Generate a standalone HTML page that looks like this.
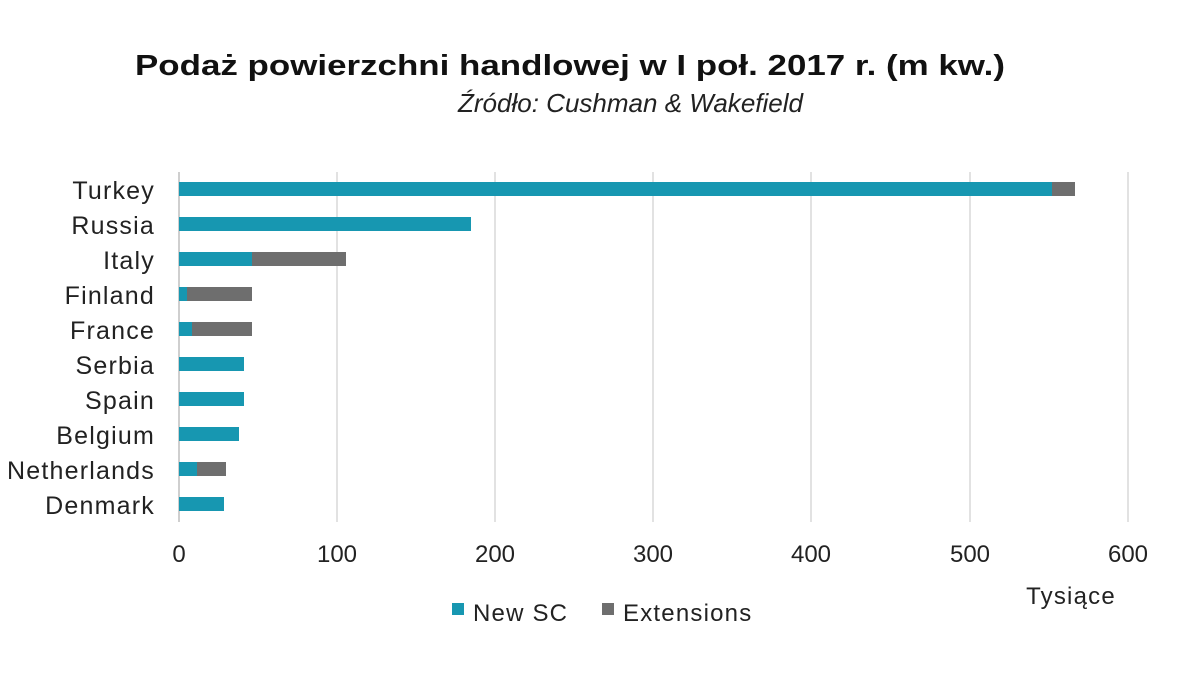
<!DOCTYPE html>
<html><head><meta charset="utf-8"><style>
body{margin:0;background:#fff;}
svg text{font-family:"Liberation Sans",sans-serif;}
</style></head><body>
<svg width="1200" height="675" xmlns="http://www.w3.org/2000/svg">
<rect width="1200" height="675" fill="#fff"/>
<text x="135" y="75" textLength="870" lengthAdjust="spacingAndGlyphs" font-size="29" font-weight="bold" fill="#111">Podaż powierzchni handlowej w I poł. 2017 r. (m kw.)</text>
<text x="458" y="112" textLength="345" lengthAdjust="spacingAndGlyphs" font-size="26" font-style="italic" fill="#222">Źródło: Cushman &amp; Wakefield</text>
<g stroke="#d9d9d9" stroke-width="1.5">
<line x1="337" y1="172" x2="337" y2="522"/><line x1="495" y1="172" x2="495" y2="522"/>
<line x1="653" y1="172" x2="653" y2="522"/><line x1="811" y1="172" x2="811" y2="522"/>
<line x1="970" y1="172" x2="970" y2="522"/><line x1="1128" y1="172" x2="1128" y2="522"/>
</g>
<line x1="179" y1="172" x2="179" y2="522" stroke="#bfbfbf" stroke-width="1.5"/>
<g fill="#1797b1">
<rect x="179" y="182" width="873" height="14"/>
<rect x="179" y="217" width="292" height="14"/>
<rect x="179" y="252" width="73" height="14"/>
<rect x="179" y="287" width="8" height="14"/>
<rect x="179" y="322" width="13" height="14"/>
<rect x="179" y="357" width="65" height="14"/>
<rect x="179" y="392" width="65" height="14"/>
<rect x="179" y="427" width="60" height="14"/>
<rect x="179" y="462" width="18" height="14"/>
<rect x="179" y="497" width="45" height="14"/>
</g>
<g fill="#6e6e6e">
<rect x="1052" y="182" width="23" height="14"/>
<rect x="252" y="252" width="94" height="14"/>
<rect x="187" y="287" width="65" height="14"/>
<rect x="192" y="322" width="60" height="14"/>
<rect x="197" y="462" width="29" height="14"/>
</g>
<g font-size="25" fill="#222" text-anchor="end" letter-spacing="1.2">
<text x="155" y="199">Turkey</text><text x="155" y="234">Russia</text>
<text x="155" y="269">Italy</text><text x="155" y="304">Finland</text>
<text x="155" y="339">France</text><text x="155" y="374">Serbia</text>
<text x="155" y="409">Spain</text><text x="155" y="444">Belgium</text>
<text x="155" y="479">Netherlands</text><text x="155" y="514">Denmark</text>
</g>
<g font-size="24" fill="#222" text-anchor="middle">
<text x="179" y="562">0</text><text x="337" y="562">100</text><text x="495" y="562">200</text>
<text x="653" y="562">300</text><text x="811" y="562">400</text><text x="970" y="562">500</text>
<text x="1128" y="562">600</text>
<text x="1071" y="604" letter-spacing="1.2">Tysiące</text>
</g>
<rect x="452" y="603" width="12" height="12" fill="#1797b1"/>
<text x="473" y="621" font-size="24" fill="#222" letter-spacing="1.2">New SC</text>
<rect x="602" y="603" width="12" height="12" fill="#6e6e6e"/>
<text x="623" y="621" font-size="24" fill="#222" letter-spacing="1.2">Extensions</text>
</svg>
</body></html>
